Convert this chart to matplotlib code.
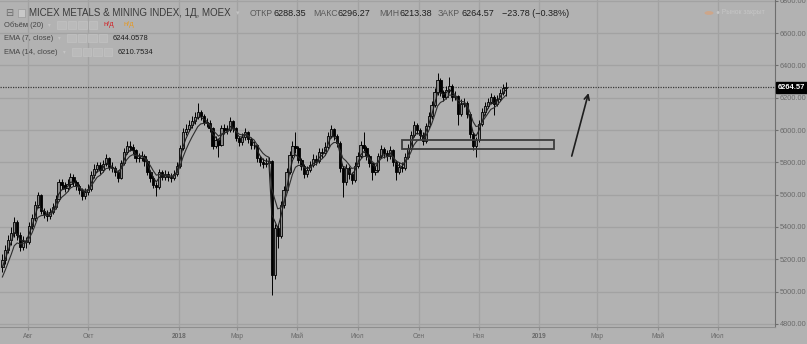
import numpy as np
import pandas as pd
import matplotlib
matplotlib.use('Agg')
import matplotlib.pyplot as plt
import matplotlib.dates as mdates
from matplotlib.patches import Rectangle
from matplotlib.transforms import blended_transform_factory

plt.rcParams['font.family'] = ['Liberation Sans', 'DejaVu Sans']

# one bar per 3 calendar days
first_day = '2017-07-06'
step_days = 3
first_open = 5150
closes = [
    5195, 5257, 5319, 5362, 5431, 5350, 5276, 5313, 5307, 5406,
    5455, 5536, 5600, 5499, 5480, 5468, 5492, 5523, 5573, 5678,
    5660, 5641, 5666, 5709, 5678, 5653, 5629, 5591, 5616, 5635,
    5721, 5758, 5783, 5752, 5790, 5827, 5771, 5765, 5740, 5703,
    5796, 5864, 5901, 5895, 5876, 5827, 5827, 5839, 5808, 5740,
    5703, 5660, 5647, 5740, 5709, 5728, 5709, 5703, 5728, 5777,
    5889, 5988, 6006, 6031, 6056, 6080, 6111, 6087, 6050, 6043,
    6012, 5901, 5938, 5907, 6012, 6000, 6000, 6056, 6012, 5950,
    5926, 5957, 5988, 5944, 5907, 5907, 5827, 5802, 5790, 5796,
    5808, 5100, 5393, 5344, 5536, 5629, 5740, 5845, 5901, 5889,
    5814, 5777, 5728, 5752, 5783, 5820, 5808, 5864, 5858, 5895,
    5963, 6006, 5963, 5920, 5765, 5678, 5765, 5728, 5690, 5777,
    5839, 5907, 5889, 5839, 5796, 5740, 5752, 5839, 5882, 5858,
    5839, 5876, 5802, 5740, 5771, 5765, 5833, 5889, 5969, 6031,
    6000, 5969, 5932, 6025, 6087, 6155, 6235, 6310, 6235, 6204,
    6248, 6272, 6204, 6210, 6099, 6161, 6167, 6099, 5975, 5901,
    5938, 6037, 6111, 6149, 6173, 6204, 6161, 6192, 6229, 6260,
    6265,
]
highs = [
    5230, 5290, 5350, 5400, 5460, 5445, 5370, 5345, 5340, 5430,
    5480, 5560, 5615, 5605, 5520, 5505, 5515, 5550, 5600, 5700,
    5700, 5680, 5695, 5735, 5725, 5690, 5665, 5640, 5640, 5665,
    5745, 5790, 5800, 5800, 5815, 5850, 5835, 5800, 5780, 5750,
    5815, 5890, 5935, 5930, 5915, 5885, 5860, 5870, 5850, 5820,
    5755, 5715, 5680, 5760, 5755, 5750, 5745, 5735, 5755, 5800,
    5905, 6010, 6035, 6060, 6085, 6110, 6167, 6125, 6100, 6075,
    6060, 6020, 5965, 5950, 6030, 6040, 6030, 6080, 6065, 6020,
    5965, 5980, 6010, 5995, 5955, 5935, 5915, 5840, 5825, 5830,
    5835, 5815, 5420, 5410, 5560, 5655, 5765, 5870, 5930, 5988,
    5900, 5830, 5790, 5780, 5810, 5850, 5845, 5890, 5890, 5925,
    5990, 6031, 6015, 5975, 5930, 5780, 5790, 5780, 5740, 5800,
    5865, 5935, 5988, 5900, 5850, 5805, 5780, 5860, 5910, 5895,
    5875, 5900, 5885, 5815, 5800, 5800, 5855, 5915, 5995, 6055,
    6045, 6015, 5985, 6045, 6110, 6180, 6260, 6353, 6320, 6250,
    6275, 6328, 6285, 6240, 6220, 6190, 6200, 6180, 6110, 5990,
    5960, 6060, 6135, 6175, 6200, 6230, 6215, 6220, 6255, 6285,
    6296.27,
]
lows = [
    5120, 5170, 5240, 5290, 5340, 5320, 5250, 5255, 5270, 5295,
    5390, 5440, 5520, 5480, 5455, 5440, 5450, 5480, 5510, 5560,
    5635, 5615, 5625, 5650, 5655, 5630, 5605, 5570, 5575, 5600,
    5625, 5705, 5740, 5730, 5740, 5775, 5750, 5740, 5715, 5680,
    5695, 5785, 5850, 5870, 5850, 5800, 5800, 5810, 5780, 5720,
    5680, 5640, 5590, 5635, 5690, 5690, 5685, 5680, 5690, 5715,
    5765, 5875, 5970, 5995, 6015, 6040, 6070, 6060, 6030, 6020,
    5990, 5880, 5890, 5833, 5900, 5975, 5975, 5990, 5990, 5930,
    5900, 5910, 5940, 5920, 5885, 5880, 5800, 5775, 5765, 5770,
    5780, 4979, 5080, 5270, 5330, 5520, 5615, 5725, 5830, 5860,
    5795, 5750, 5705, 5710, 5740, 5770, 5785, 5795, 5830, 5845,
    5880, 5950, 5940, 5895, 5740, 5585, 5660, 5700, 5665, 5680,
    5765, 5825, 5870, 5815, 5770, 5690, 5720, 5740, 5825, 5830,
    5810, 5820, 5780, 5690, 5725, 5740, 5750, 5820, 5875, 5955,
    5975, 5945, 5910, 5920, 6010, 6070, 6140, 6220, 6210, 6180,
    6190, 6230, 6180, 6185, 6031, 6085, 6140, 6075, 5950, 5875,
    5833, 5925, 6025, 6095, 6135, 6160, 6093, 6150, 6180, 6215,
    6213.38,
]
# EMA values just before the first bar (the lines start below the price)
ema7_start = 5115
ema14_start = 5053

last_price = 6264.57
month_ticks = ['2017-08-01', '2017-10-01', '2018-01-01', '2018-03-01',
               '2018-05-01', '2018-07-01', '2018-09-01', '2018-11-01',
               '2019-01-01', '2019-03-01', '2019-05-01', '2019-07-01']
month_labels = ['Авг', 'Окт', '2018', 'Мар', 'Май', 'Июл', 'Сен', 'Ноя',
                '2019', 'Мар', 'Май', 'Июл']
price_ticks = [4800, 5000, 5200, 5400, 5600, 5800, 6000, 6200, 6400, 6600, 6800]

# drawings on the chart
box_dates = ('2018-08-15', '2019-01-16')
box_prices = (5882, 5938)
arrow_from = ('2019-02-03', 5839)
arrow_to = ('2019-02-20', 6229)

BG = '#b2b2b2'
GRID = '#a2a2a2'

n = len(closes)
dates = pd.Timestamp(first_day) + pd.to_timedelta(np.arange(n) * step_days, 'D')
x = mdates.date2num(dates)
c = np.array(closes, dtype=float)
o = np.r_[first_open, c[:-1]]
hi = np.array(highs, dtype=float)
lo = np.array(lows, dtype=float)


def ema(values, length, start):
    # daily EMA length expressed in 3-day bars (about 2.14 trading days each)
    a = 2 / (length / 2.14 + 1)
    out, prev = [], start
    for v in values:
        prev = prev + a * (v - prev)
        out.append(prev)
    return np.array(out)


ema7 = ema(c, 7, ema7_start)
ema14 = ema(c, 14, ema14_start)

W, H = 807, 344
fig = plt.figure(figsize=(W / 100, H / 100), dpi=100)
fig.patch.set_facecolor(BG)
ax = fig.add_axes([0, 1 - 327 / H, 775 / W, 327 / H])
ax.set_facecolor(BG)

ax.set_xlim(mdates.date2num(pd.Timestamp('2017-07-03 14:00')),
            mdates.date2num(pd.Timestamp('2019-08-28')))
ax.set_ylim(4781, 6805)

# grid
ax.set_xticks(mdates.date2num(pd.to_datetime(month_ticks)))
ax.set_xticklabels(month_labels)
ax.set_yticks(price_ticks)
ax.set_yticklabels(['%.2f' % p for p in price_ticks])
ax.grid(True, color=GRID, lw=0.9)
ax.set_axisbelow(True)

# candles
up = c >= o
ax.vlines(x, lo, hi, color='black', lw=0.7, zorder=2)
body_w = 2.3
ax.bar(x[up], (c - o)[up], bottom=o[up], width=body_w, color='#8a8a8a',
       edgecolor='black', lw=0.6, zorder=3)
ax.bar(x[~up], (c - o)[~up], bottom=o[~up], width=body_w, color='black',
       edgecolor='black', lw=0.6, zorder=3)

ax.plot(x, ema7, color='#1e1e1e', lw=0.8, zorder=4)
ax.plot(x, ema14, color='#2e2e2e', lw=0.8, zorder=4)

# last price line and label
ax.axhline(last_price, color='#3a3a3a', lw=0.9, ls=(0, (1, 1)), zorder=1)
tr = blended_transform_factory(ax.transAxes, ax.transData)
ax.text(1.004, last_price, '%.2f' % last_price, transform=tr, color='white',
        fontsize=5.4, fontweight='bold', va='center', ha='left', clip_on=False,
        bbox=dict(boxstyle='square,pad=0.3', fc='black', ec='black'), zorder=10)

# rectangle and arrow
bx0, bx1 = mdates.date2num(pd.to_datetime(box_dates))
ax.add_patch(Rectangle((bx0, box_prices[0]), bx1 - bx0, box_prices[1] - box_prices[0],
                       fill=False, ec='#3c3c3c', lw=1.3, zorder=5))
ax.annotate('', xy=(mdates.date2num(pd.Timestamp(arrow_to[0])), arrow_to[1]),
            xytext=(mdates.date2num(pd.Timestamp(arrow_from[0])), arrow_from[1]),
            arrowprops=dict(arrowstyle='->', color='#1e1e1e', lw=1.2,
                            shrinkA=0, shrinkB=0, mutation_scale=9), zorder=5)

# axes look
for s in ['top', 'left']:
    ax.spines[s].set_visible(False)
ax.spines['right'].set_color('#6e6e6e')
ax.spines['bottom'].set_color('#8e8e8e')
ax.yaxis.tick_right()
ax.tick_params(axis='y', length=2, pad=1.5, colors='#6e6e6e', labelsize=5.3,
               labelcolor='#6a6a6a')
ax.tick_params(axis='x', length=2, pad=2.5, colors='#8e8e8e', labelsize=4.8,
               labelcolor='#6a6a6a')
for lab in ax.get_xticklabels():
    if lab.get_text().isdigit():
        lab.set_fontweight('bold')


def px(xp, yp):
    return xp / W, 1 - yp / H


# header
fig.text(*px(5, 13), '⊟', fontsize=7, color='#6a6a6a', va='center', family='DejaVu Sans')
fig.patches.append(Rectangle(px(18, 17), 7 / W, 8 / H, transform=fig.transFigure,
                             fc='#c8c8c8', ec='#9a9a9a', lw=0.5))
fig.text(*px(29, 13), 'MICEX METALS & MINING INDEX, 1Д, MOEX', fontsize=7,
         color='#3a3a3a', va='center')
fig.text(*px(236, 13), '▾', fontsize=5, color='#c4c4c4', va='center', family='DejaVu Sans')
header = [(250, 'ОТКР', 274, '6288.35'), (313, 'МАКС', 338, '6296.27'),
          (379, 'МИН', 399, '6213.38'), (438, 'ЗАКР', 461, '6264.57')]
for lx, lt, vx, vt in header:
    fig.text(*px(lx, 13), lt, fontsize=6.3, color='#5a5a5a', va='center')
    fig.text(*px(vx, 13), vt, fontsize=6.5, color='#1e1e1e', va='center')
fig.text(*px(502, 13), '−23.78 (−0.38%)', fontsize=6.5, color='#1e1e1e', va='center')

fig.patches.append(plt.Circle(px(709, 13), 4.5 / W, transform=fig.transFigure,
                              fc='#d9a27a', ec='none', alpha=0.7))
fig.text(*px(716, 13), '● Рынок закрыт', fontsize=4.8, color='#c6c6c6', va='center')

rows = [(25, 'Объём (20)', 57), (38, 'EMA (7, close)', 67), (52, 'EMA (14, close)', 72)]
for yp, txt, bx in rows:
    fig.text(*px(4, yp), txt, fontsize=5.4, color='#454545', va='center')
    fig.text(*px(bx - 9, yp), '▾', fontsize=4, color='#c4c4c4', va='center', family='DejaVu Sans')
    for k in range(4):
        fig.patches.append(Rectangle(px(bx + k * 10.5, yp + 4), 8.5 / W, 8 / H,
                                     transform=fig.transFigure, fc='#bababa',
                                     ec='#c2c2c2', lw=0.5))
fig.text(*px(104, 25), 'н/д', fontsize=5.4, color='#d0262a', va='center')
fig.text(*px(124, 25), 'н/д', fontsize=5.4, color='#e39a28', va='center')
fig.text(*px(113, 38), '6244.0578', fontsize=5.4, color='#1e1e1e', va='center')
fig.text(*px(118, 52), '6210.7534', fontsize=5.4, color='#1e1e1e', va='center')

fig.savefig('out.png', dpi=100, facecolor=BG)
